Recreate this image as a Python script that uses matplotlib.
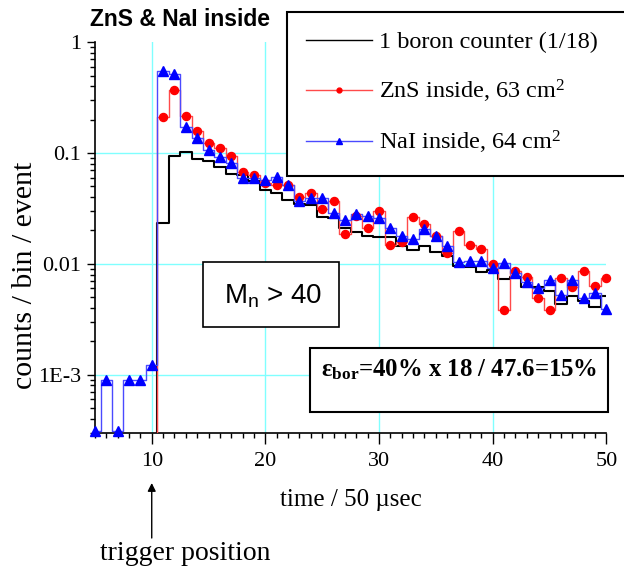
import matplotlib
matplotlib.use('Agg')
import matplotlib.pyplot as plt
import numpy as np
from matplotlib.lines import Line2D
from matplotlib.patches import Rectangle

# time bins (units of 50 usec)
t_bins = np.arange(5, 51)
# 1 boron counter (1/18)
boron = [0, 0, 0, 0, 0, 0,
         0.0235, 0.094, 0.102, 0.088, 0.084, 0.075, 0.065, 0.063, 0.056, 0.046,
         0.044, 0.038, 0.035, 0.034, 0.0267, 0.0258, 0.021, 0.0195, 0.0179, 0.0174,
         0.0174, 0.0146, 0.0133, 0.0146, 0.0129, 0.0118, 0.0096, 0.0093, 0.0085, 0.0088,
         0.0073, 0.0076, 0.0062, 0.0062, 0.0057, 0.0043, 0.0051, 0.0046, 0.0041, 0.0051]
# ZnS inside, 63 cm2
zns = [0, 0, 0, 0, 0, 0,
       0.21, 0.37, 0.216, 0.159, 0.122, 0.112, 0.094, 0.067, 0.064, 0.054,
       0.052, 0.052, 0.040, 0.044, 0.031, 0.037, 0.0187, 0.027, 0.021, 0.030,
       0.0148, 0.0159, 0.0267, 0.0229, 0.0177, 0.0125, 0.0198, 0.0148, 0.0136, 0.0100,
       0.0038, 0.0087, 0.0076, 0.0049, 0.0038, 0.0074, 0.0062, 0.0087, 0.0063, 0.0074]
# NaI inside, 64 cm2
nai = [3.1e-4, 9e-4, 3.1e-4, 9e-4, 9e-4, 1.23e-3,
       0.55, 0.52, 0.171, 0.136, 0.107, 0.092, 0.082, 0.059, 0.059, 0.057,
       0.061, 0.051, 0.037, 0.039, 0.039, 0.029, 0.025, 0.028, 0.027, 0.026,
       0.021, 0.018, 0.0168, 0.0205, 0.0177, 0.0146, 0.0104, 0.0106, 0.0107, 0.0091,
       0.0101, 0.0083, 0.0068, 0.0061, 0.0072, 0.0052, 0.0071, 0.0049, 0.0055, 0.0039]

labels = ['1 boron counter (1/18)', 'ZnS inside, 63 cm$^2$', 'NaI inside, 64 cm$^2$']
ytick_vals = [1e-3, 1e-2, 1e-1, 1]
ytick_labels = ['1E-3', '0.01', '0.1', '1']
xtick_vals = [10, 20, 30, 40, 50]

plt.rcParams['font.family'] = ['Liberation Serif', 'DejaVu Sans']
plt.rcParams['mathtext.fontset'] = 'custom'
plt.rcParams['mathtext.rm'] = 'Liberation Serif'
plt.rcParams['mathtext.it'] = 'Liberation Serif:italic'
plt.rcParams['mathtext.bf'] = 'Liberation Serif:bold'
plt.rcParams['mathtext.sf'] = 'Liberation Sans'

fig = plt.figure(figsize=(6.24, 5.70), dpi=100)
ax = fig.add_axes([0.1521, 0.2412, 0.8196, 0.6846])

t = np.array(t_bins)
boron = np.array(boron)
zns = np.array(zns)
nai = np.array(nai)

# grid (cyan)
for gx in xtick_vals[:-1]:
    ax.axvline(gx, color='#80ffff', lw=1, zorder=0)
for gy in ytick_vals[:-1]:
    ax.axhline(gy, color='#80ffff', lw=1, zorder=0)

ax.step(t, boron, where='mid', color='black', lw=1.5, zorder=2)
ax.step(t, zns, where='mid', color='#ff4a4a', lw=1, zorder=3)
ax.step(t, nai, where='mid', color='#4a4aff', lw=1, zorder=4)
m = zns > 0
ax.plot(t[m], zns[m], ls='none', marker='o', ms=5.8, color='red', mec='red',
        zorder=5, clip_on=False)
ax.plot(t, nai, ls='none', marker='^', ms=7.5, color='blue', mec='blue',
        zorder=6, clip_on=False)

ax.set_yscale('log')
ax.set_xlim(5, 50)
ax.set_ylim(3.0e-4, 1)
ax.set_yticks(ytick_vals)
ax.set_yticklabels(ytick_labels)
ax.set_xticks(xtick_vals)
ax.set_xticks(np.arange(5, 51), minor=True)
ax.yaxis.set_minor_formatter(matplotlib.ticker.NullFormatter())
ax.tick_params(which='major', direction='out', length=6, width=1, labelsize=16, pad=4)
ax.tick_params(which='minor', direction='out', length=3.5, width=1)
ax.tick_params(axis='x', which='major', length=8, pad=6)
for s in ['top', 'right']:
    ax.spines[s].set_visible(False)
for s in ['left', 'bottom']:
    ax.spines[s].set_linewidth(1.2)

ax.set_xlabel('time / 50 µsec', fontsize=18, va='center')
ax.xaxis.set_label_coords(0.5, -0.173)
ax.set_ylabel('counts / bin / event', fontsize=21.5, va='center')
ax.yaxis.set_label_coords(-0.137, 0.404)

# legend
handles = [Line2D([], [], color='black', lw=1),
           Line2D([], [], color='#ff4a4a', lw=1, marker='o', ms=3.5, mfc='red', mec='red'),
           Line2D([], [], color='#4a4aff', lw=1, marker='^', ms=5, mfc='blue', mec='blue')]
leg = fig.legend(handles, labels, loc='upper left',
                 bbox_to_anchor=(287 / 624, 1 - 12 / 570, 360 / 624, 0.0),
                 mode='expand', borderaxespad=0, fontsize=17.5, frameon=True,
                 fancybox=False, edgecolor='black', framealpha=1,
                 handlelength=2.7, handletextpad=0.3, labelspacing=1.0,
                 borderpad=0.8, numpoints=1)
leg.get_frame().set_linewidth(1.5)

# title
fig.text(90 / 624, 1 - 20 / 570, 'ZnS & NaI inside', family='Liberation Sans',
         weight='bold', fontsize=16.5, va='center', ha='left')

# M_n > 40 box
fig.patches.append(Rectangle((203 / 624, 1 - 327 / 570), 136 / 624, 65 / 570,
                             transform=fig.transFigure, facecolor='white',
                             edgecolor='black', lw=1.2, zorder=3))
fig.text(273 / 624, 1 - 296 / 570, r'$\mathsf{M_n}$ > 40', family='Liberation Sans',
         fontsize=20, ha='center', va='center', zorder=4)

# efficiency box
fig.patches.append(Rectangle((310 / 624, 1 - 412 / 570), 298 / 624, 64 / 570,
                             transform=fig.transFigure, facecolor='white',
                             edgecolor='black', lw=1.5, zorder=3))
fig.text(321 / 624, 1 - 370 / 570, r'ε$_{\mathbf{bor}}$=40% x 18 / 47.6=15%',
         family='Liberation Serif', weight='bold', fontsize=17.8,
         ha='left', va='center', zorder=4)

# trigger arrow
ax.annotate('', xy=(10, 1 - 483 / 570), xycoords=('data', 'figure fraction'),
            xytext=(10, 1 - 538 / 570), textcoords=('data', 'figure fraction'),
            arrowprops=dict(arrowstyle='-|>', color='black', lw=1,
                            mutation_scale=12, shrinkA=0, shrinkB=0),
            annotation_clip=False)
fig.text(185 / 624, 1 - 553 / 570, 'trigger position', fontsize=20,
         ha='center', va='center')

fig.savefig('out.png', dpi=100)
